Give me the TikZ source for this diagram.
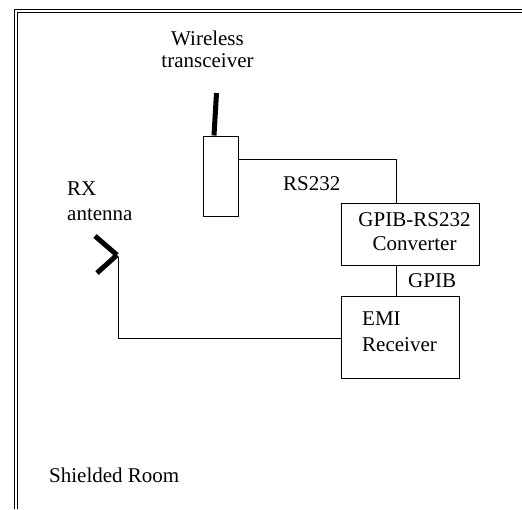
\documentclass[tikz,border=0pt]{standalone}
\usepackage{fontspec}
\setmainfont{Liberation Serif}
\begin{document}
\begin{tikzpicture}[x=1pt,y=-1pt,
  lbl/.style={inner sep=0pt,anchor=base,font=\fontsize{21}{24}\selectfont},
  lblw/.style={inner sep=0pt,anchor=base west,font=\fontsize{21}{24}\selectfont},
  box/.style={draw,line width=1pt,inner sep=0pt},
  wire/.style={line width=1pt},
  ant/.style={line width=5pt}]
\useasboundingbox (0,0) rectangle (522,509);
% shielded room walls (double line)
\draw[line width=1pt] (14,509) -- (14,9) -- (522,9);
\draw[line width=1pt] (17.5,509) -- (17.5,12.5) -- (522,12.5);
% boxes
\node[box,minimum width=35pt,minimum height=80pt] (tx) at (220.5,176) {};
\node[box,minimum width=138pt,minimum height=62pt] (conv) at (410,234) {};
\node[box,minimum width=118pt,minimum height=82pt] (emi) at (400,337) {};
% antenna on transceiver
\coordinate (txant) at (216.5,93);
\draw[ant] (txant) -- (tx.north west -| 214,0);
% RX antenna
\coordinate (rxa) at (95,236);
\coordinate (rxv) at (117,255);
\coordinate (rxb) at (97,273);
\coordinate (rxfeed) at (118.3,257);
\draw[ant] (rxa) -- (rxv);
\draw[ant] (rxv) -- (rxb);
% wires
\draw[wire] ([yshift=17pt]tx.east) -| ([xshift=-14pt]conv.north);
\draw[wire] ([xshift=-14pt]conv.south) -- ([xshift=-14pt]conv.south |- emi.north);
\draw[wire] ([yshift=-1pt]emi.west) -| (rxfeed);
% labels
\node[lbl] (w1) at (207.5,45) {Wireless};
\node[lbl] (w2) at (207.5,67) {transceiver};
\node[lblw] (rx1) at (67,195) {RX};
\node[lblw] (rx2) at (67,220) {antenna};
\node[lblw] (rs) at (283,190) {RS232};
\node[lbl] (c1) at (414.5,226) {GPIB-RS232};
\node[lbl] (c2) at (414.5,250) {Converter};
\node[lblw] (gp) at (408,287) {GPIB};
\node[lblw] (e1) at (362,325) {EMI};
\node[lblw] (e2) at (362,351) {Receiver};
\node[lblw] (sr) at (49,482) {Shielded Room};
\end{tikzpicture}
\end{document}
